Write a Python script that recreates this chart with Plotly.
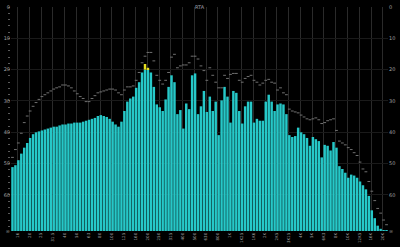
import plotly.graph_objects as go

# ---- data ----
bands = list(range(128))

tick_labels = ["16", "20", "25", "31.5", "40", "50", "63", "80", "100", "125",
               "160", "200", "250", "315", "400", "500", "630", "800", "1K", "1K25",
               "1K6", "2K", "2K5", "3K15", "4K", "5K", "6K3", "8K", "10K", "12K5",
               "16K", "20K"]

level_db = [-51.1, -50.5, -48.9, -46.8, -44.9, -43.4, -41.8, -40.6, -40.0, -39.7,
            -39.4, -39.1, -38.8, -38.5, -38.2, -38.2, -37.8, -37.5, -37.5, -37.2,
            -37.2, -36.9, -36.9, -36.9, -36.6, -36.3, -36.0, -35.7, -35.4, -34.8,
            -34.5, -34.8, -35.1, -35.7, -36.6, -37.5, -38.2, -36.6, -33.2, -30.2,
            -29.2, -28.6, -25.8, -24.0, -20.9, -18.2, -19.4, -20.9, -25.5, -31.1,
            -32.0, -33.2, -29.5, -25.5, -21.8, -24.0, -34.2, -32.9, -38.8, -30.8,
            -32.6, -21.8, -21.2, -34.2, -31.7, -26.8, -33.5, -28.6, -33.2, -30.2,
            -40.9, -29.8, -25.5, -28.6, -36.9, -26.8, -27.4, -33.2, -37.2, -31.7,
            -30.2, -30.2, -36.9, -35.7, -36.3, -36.3, -30.2, -28.0, -30.2, -33.2,
            -31.1, -30.8, -31.1, -34.2, -40.9, -41.5, -41.2, -38.5, -40.0, -40.6,
            -41.8, -44.3, -41.5, -42.2, -42.8, -48.0, -44.0, -44.3, -45.8, -43.1,
            -44.9, -50.8, -51.7, -52.9, -54.5, -53.5, -53.8, -54.5, -55.7, -56.9,
            -58.2, -60.3, -64.9, -67.4, -69.8, -70.8, -71.2, -71.4]

peak_db = [-48.0, -45.5, -43.4, -40.3, -36.9, -34.8, -33.2, -31.7, -30.5, -29.5,
           -28.6, -28.0, -27.4, -26.8, -26.2, -25.8, -25.5, -24.9, -24.9, -25.2,
           -25.8, -26.8, -27.7, -28.6, -29.2, -30.2, -30.2, -29.2, -28.3, -27.4,
           -27.1, -26.8, -26.5, -26.2, -26.2, -26.5, -27.4, -28.0, -26.5, -25.5,
           -25.5, -25.2, -23.4, -20.9, -17.8, -15.7, -14.5, -14.5, -17.2, -21.8,
           -23.4, -24.6, -23.4, -20.9, -16.0, -15.1, -19.4, -18.8, -18.5, -18.5,
           -17.8, -15.7, -15.7, -16.6, -18.8, -20.3, -23.4, -19.4, -21.8, -24.0,
           -25.8, -25.8, -21.8, -22.8, -21.5, -21.2, -21.2, -23.4, -24.0, -22.8,
           -22.2, -21.8, -23.4, -24.0, -24.9, -24.3, -23.4, -23.1, -24.0, -24.3,
           -26.5, -25.8, -27.4, -28.0, -32.6, -33.2, -33.5, -33.8, -34.5, -35.1,
           -35.7, -36.0, -35.7, -35.4, -36.0, -37.2, -36.9, -36.3, -36.0, -35.7,
           -39.4, -42.8, -43.4, -44.0, -44.9, -45.5, -46.5, -47.4, -49.5, -51.7,
           -52.6, -55.7, -58.8, -61.8, -64.3, -65.8, -68.0, -69.5]

y_tick_vals = [0, -10, -20, -30, -40, -50, -60, -71.5]
y_tick_text = ["0", "10", "20", "30", "40", "50", "60", "\u221e"]

CLIP_DB = -20
FLOOR_DB = -71.5
TITLE = "RTA"

# ---- figure ----
tick_pos = [4 * k + 1.75 for k in range(len(tick_labels))]

cyan_len = [min(v, CLIP_DB) - FLOOR_DB for v in level_db]
yellow_len = [max(v - CLIP_DB, 0) for v in level_db]

fig = go.Figure()
fig.add_trace(go.Bar(x=bands, y=cyan_len, base=FLOOR_DB,
                     marker=dict(color="#26C8C8", line=dict(width=0)),
                     showlegend=False, hoverinfo="skip"))
fig.add_trace(go.Bar(x=bands, y=yellow_len, base=CLIP_DB,
                     marker=dict(color="#E8E020", line=dict(width=0)),
                     showlegend=False, hoverinfo="skip"))
fig.add_trace(go.Scatter(x=bands, y=peak_db, mode="markers",
                         marker=dict(symbol="line-ew", size=2,
                                     line=dict(width=1, color="#707070")),
                         showlegend=False, hoverinfo="skip"))
fig.add_trace(go.Scatter(x=[bands[0]], y=[FLOOR_DB], yaxis="y2", mode="markers",
                         marker=dict(opacity=0), showlegend=False, hoverinfo="skip"))

axis_font = dict(family="DejaVu Sans", size=5, color="#a0a0a0")

fig.update_layout(
    width=400, height=247,
    margin=dict(l=10, r=12, t=4, b=10),
    paper_bgcolor="black", plot_bgcolor="black",
    barmode="overlay", bargap=0.16,
    xaxis=dict(range=[-0.5, 127.5], tickvals=tick_pos, ticktext=tick_labels,
               tickangle=-90, tickfont=dict(family="DejaVu Sans", size=4, color="#a0a0a0"),
               showgrid=True, gridcolor="#2a2a2a", gridwidth=1, zeroline=False,
               showline=False, ticks=""),
    yaxis=dict(range=[FLOOR_DB, 0], tickvals=y_tick_vals, ticktext=y_tick_text,
               tickfont=axis_font, showgrid=True, gridcolor="#1a1a1a",
               zeroline=False, showline=False, ticks="",
               minor=dict(dtick=2, ticks="outside", ticklen=2, tickcolor="#5a5a5a",
                          showgrid=False)),
    yaxis2=dict(range=[FLOOR_DB, 0], tickvals=y_tick_vals, ticktext=y_tick_text,
                tickfont=axis_font, overlaying="y", side="right", showgrid=False,
                zeroline=False, showline=False, ticks=""),
    annotations=[dict(text=TITLE, x=0.5, y=1, xref="paper", yref="paper",
                      xanchor="center", yanchor="middle", showarrow=False,
                      font=dict(family="DejaVu Sans", size=5, color="#a0a0b0"))],
)

fig.write_html("out.html")
